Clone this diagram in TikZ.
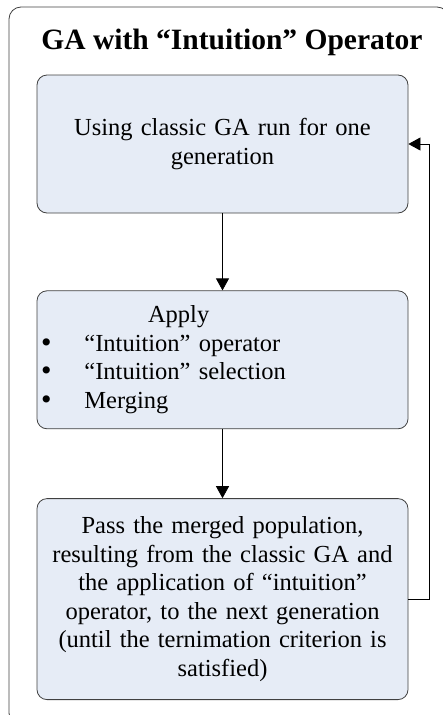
\documentclass[tikz,border=0pt]{standalone}
\usepackage{fontspec}
\setmainfont{Liberation Serif}
\newfontfamily\bulletfont{DejaVu Sans}
\usetikzlibrary{arrows.meta,positioning}
\definecolor{boxfill}{RGB}{230,236,246}
\definecolor{boxline}{RGB}{64,64,64}
\newcommand{\itembullet}{\hspace*{-3pt}{\bulletfont •}\hspace{31pt}}

\begin{document}
\begin{tikzpicture}[>={Triangle[width=13pt,length=12pt]},x=1pt,y=1pt,line width=0.8pt,
    stepbox/.style={draw=boxline,fill=boxfill,rounded corners=10pt,minimum width=371pt,
        text width=361pt,inner xsep=5pt,font=\fontsize{24.5}{28.5}\selectfont}]
        \useasboundingbox (0,0) rectangle (443,-715);
        \clip (0,0) rectangle (443,-715);
        \draw[boxline,rounded corners=12pt] (9,-7) rectangle (449,-725);
        \node[font=\bfseries\fontsize{29.5}{31}\selectfont] (title) at (232,-42)
            {GA with “Intuition” Operator};
        \node[stepbox,align=center,minimum height=138pt] (run) at (222.5,-144)
            {Using classic GA run for one\\generation};
        \node[stepbox,align=left,minimum height=138pt,below=77pt of run] (apply)
            {\hspace*{106pt}Apply\\
             \itembullet“Intuition” operator\\
             \itembullet“Intuition” selection\\
             \itembullet Merging};
        \node[stepbox,align=center,minimum height=201pt,below=69pt of apply] (pass)
            {Pass the merged population,\\
             resulting from the classic GA and\\
             the application of “intuition”\\
             operator, to the next generation\\
             (until the ternimation criterion is\\
             satisfied)};
        \draw[->] (run) -- (apply);
        \draw[->] (apply) -- (pass);
        \draw[->] (pass.east) -- ++(21,0) |- (run.east);
      \end{tikzpicture}
\end{document}
